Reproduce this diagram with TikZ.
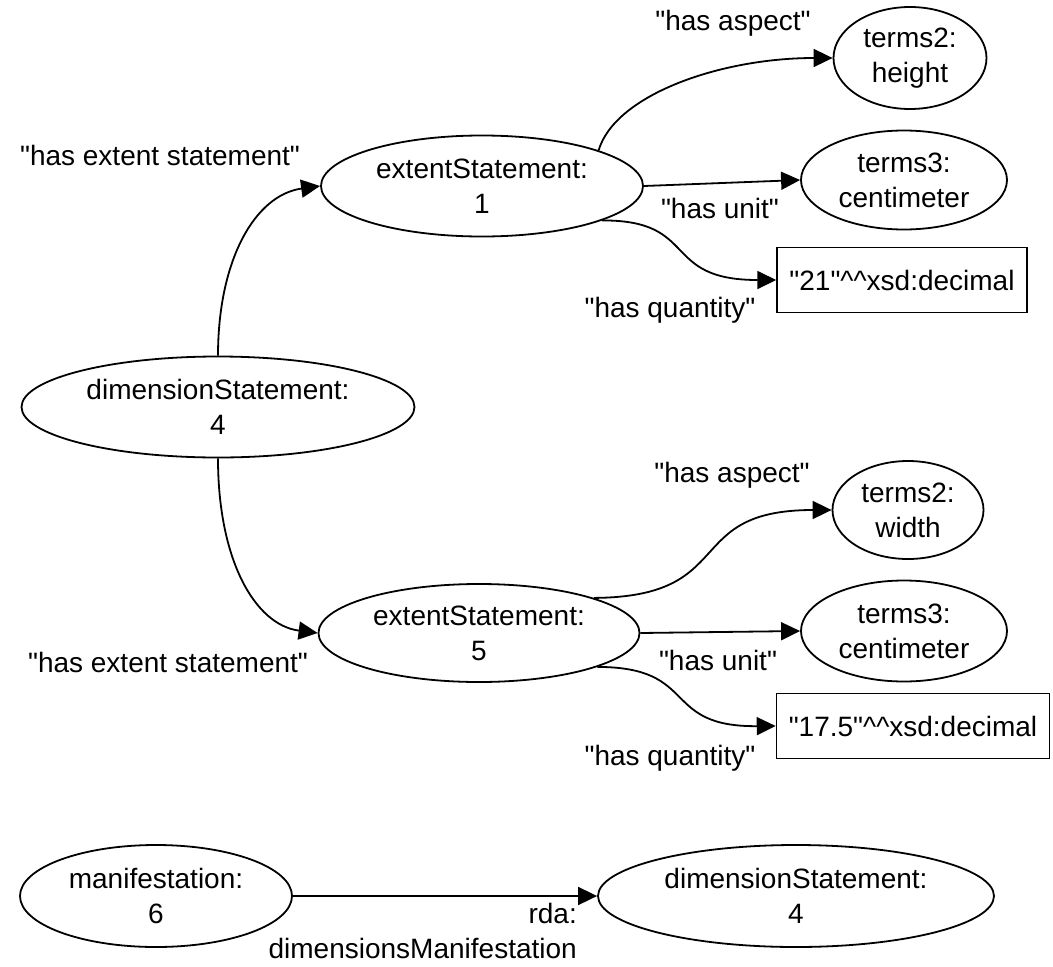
\documentclass[tikz,border=0pt]{standalone}
\usepackage{fontspec}
\setmainfont{Liberation Sans}
\newfontfamily\plainq{Liberation Sans}[Ligatures=ResetAll]
\usetikzlibrary{shapes.geometric,arrows.meta}
\newcommand{\qd}{{\plainq\symbol{34}}}
\begin{document}
\begin{tikzpicture}[x=1pt,y=-1pt,
  every node/.style={font=\fontsize{28}{35}\selectfont},
  ell/.style={ellipse,draw,line width=1.8pt,inner sep=0pt,align=center},
  lit/.style={rectangle,draw,line width=1.5pt,inner sep=0pt,minimum height=65pt},
  lbl/.style={inner sep=0pt,align=center},
  edge/.style={line width=1.8pt,-{Triangle[length=19pt,width=18pt]}}]
\useasboundingbox (0,0) rectangle (1053,967);
% nodes
\node[ell,minimum width=393pt,minimum height=101pt] (d) at (218,407) {dimensionStatement:\\4};
\node[ell,minimum width=322pt,minimum height=101pt] (e1) at (482,186) {extentStatement:\\1};
\node[ell,minimum width=153pt,minimum height=102pt] (h) at (910,58) {terms2:\\height};
\node[ell,minimum width=206pt,minimum height=99pt] (c1) at (904,180) {terms3:\\centimeter};
\node[lit,minimum width=250pt] (q1) at (902,280) {\qd21\qd\textasciicircum\textasciicircum xsd:decimal};
\node[ell,minimum width=321pt,minimum height=98pt] (e2) at (479,633) {extentStatement:\\5};
\node[ell,minimum width=151pt,minimum height=98pt] (w) at (908,510) {terms2:\\width};
\node[ell,minimum width=206pt,minimum height=101pt] (c2) at (904,631) {terms3:\\centimeter};
\node[lit,minimum width=273pt] (q2) at (913,726) {\qd17.5\qd\textasciicircum\textasciicircum xsd:decimal};
\node[ell,minimum width=272pt,minimum height=102pt] (m) at (156,896) {manifestation:\\6};
\node[ell,minimum width=396pt,minimum height=102pt] (d2) at (796,896) {dimensionStatement:\\4};
% labels
\node[lbl] (l1) at (160,155) {\qd has extent statement\qd};
\node[lbl] (l2) at (733,23) {\qd has aspect\qd};
\node[lbl] (l3) at (720,208) {\qd has unit\qd};
\node[lbl] (l4) at (670,310) {\qd has quantity\qd};
\node[lbl] (l5) at (168,662) {\qd has extent statement\qd};
\node[lbl] (l6) at (732,475) {\qd has aspect\qd};
\node[lbl] (l7) at (718,660) {\qd has unit\qd};
\node[lbl] (l8) at (670,758) {\qd has quantity\qd};
\node[lbl,align=right,anchor=north east] (l9) at (577,903) {rda:\\dimensionsManifestation};
% edges
\draw[edge] (d.north) .. controls (218,260) and (255,195) .. (e1.west);
\draw[edge] (e1.17) .. controls (615,95) and (720,58) .. (h.west);
\draw[edge] (e1.east) -- (c1.west);
\draw[edge] (e1.-16) .. controls (700,220) and (660,280) .. (q1.west);
\draw[edge] (d.south) .. controls (218,560) and (255,625) .. (e2.west);
\draw[edge] (e2.17) .. controls (740,597) and (680,510) .. (w.west);
\draw[edge] (e2.east) -- (c2.west);
\draw[edge] (e2.-16) .. controls (700,667) and (660,727) .. (q2.west);
\draw[edge] (m.east) -- (d2.west);
\end{tikzpicture}
\end{document}
